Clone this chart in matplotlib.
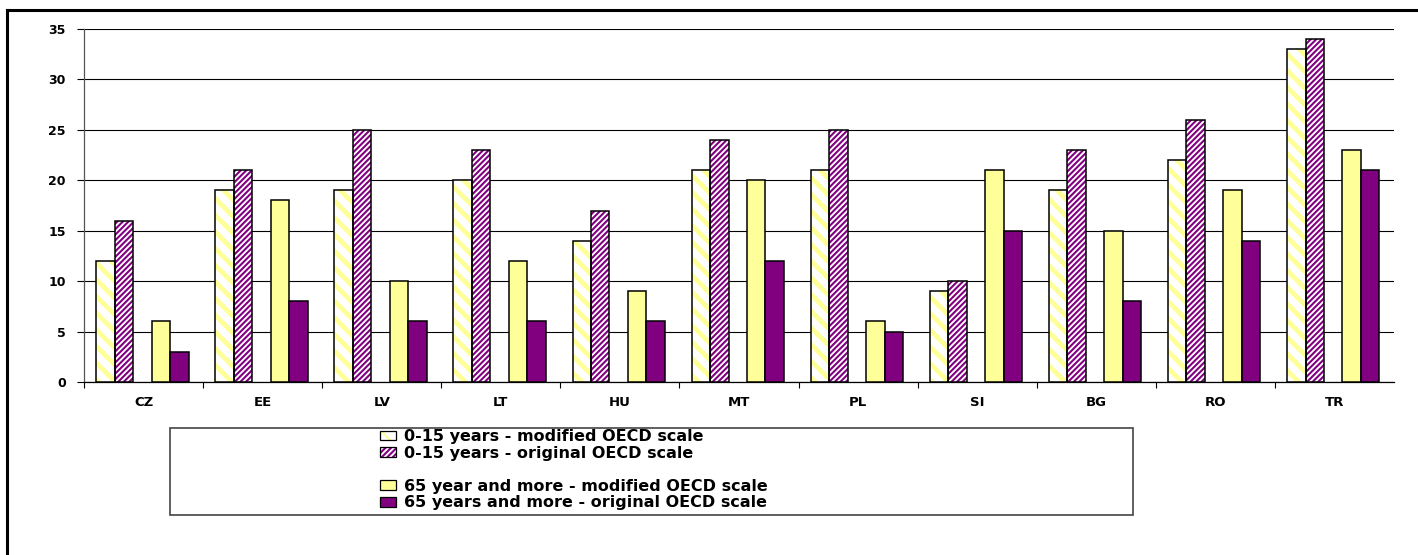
import matplotlib
matplotlib.use('Agg')
import matplotlib.pyplot as plt
from matplotlib.patches import Patch, Rectangle
from matplotlib.lines import Line2D
from matplotlib.legend_handler import HandlerTuple
import numpy as np

plt.rcParams['font.family'] = ['DejaVu Sans']
plt.rcParams['font.weight'] = 'bold'

countries = ["CZ", "EE", "LV", "LT", "HU", "MT", "PL", "SI", "BG", "RO", "TR"]
young_modified = [12, 19, 19, 20, 14, 21, 21, 9, 19, 22, 33]
young_original = [16, 21, 25, 23, 17, 24, 25, 10, 23, 26, 34]
old_modified = [6, 18, 10, 12, 9, 20, 6, 21, 15, 19, 23]
old_original = [3, 8, 6, 6, 6, 12, 5, 15, 8, 14, 21]

labels = ["0-15 years - modified OECD scale",
          "0-15 years - original OECD scale",
          " ",
          "65 year and more - modified OECD scale",
          "65 years and more - original OECD scale"]

yellow = '#FFFF99'
purple = '#800080'

W, H = 1418, 555
fig = plt.figure(figsize=(W / 100, H / 100), dpi=100)
ax = fig.add_axes([84 / W, 1 - 382 / H, (1394 - 84) / W, (382 - 29) / H])

x = np.arange(len(countries))
width = 0.155  # bar width, 5 slots per group (middle one is empty)


def hatched(vals, slot, hatch, hcolor, hlw):
    pos = x + (slot - 2) * width - 0.01
    plt.rcParams['hatch.linewidth'] = hlw
    bars = ax.bar(pos, vals, width, color='white', edgecolor=hcolor, hatch=hatch,
                  linewidth=0, zorder=3)
    for b in bars:
        if hasattr(b, 'set_hatch_linewidth'):
            b.set_hatch_linewidth(hlw)
    ax.bar(pos, vals, width, color='none', edgecolor='black', linewidth=1.1, zorder=4)


def plain(vals, slot, color):
    pos = x + (slot - 2) * width - 0.01
    ax.bar(pos, vals, width, color=color, edgecolor='black', linewidth=1.1, zorder=3)


hatched(young_modified, 0, '\\\\', yellow, 3.5)
hatched(young_original, 1, '//////', purple, 1.5)
plain(old_modified, 3, yellow)
plain(old_original, 4, purple)

ax.set_ylim(0, 35)
ax.set_yticks(range(0, 36, 5))
ax.set_xlim(-0.5, len(countries) - 0.5)
ax.set_xticks(x - 0.5)
ax.set_xticks(x, minor=True)
ax.set_xticklabels([])
ax.set_xticklabels(countries, minor=True)
ax.tick_params(axis='x', which='major', length=4, width=0.8, direction='out')
ax.tick_params(axis='x', which='minor', length=0, pad=10, labelsize=9.5)
ax.tick_params(axis='y', length=5, width=0.8, pad=8, labelsize=9)
ax.yaxis.grid(True, color='black', linewidth=0.8, zorder=0)
ax.set_axisbelow(True)
for s in ['top', 'right']:
    ax.spines[s].set_visible(False)
ax.spines['left'].set_color('#555555')
ax.spines['bottom'].set_color('black')
ax.spines['left'].set_linewidth(0.9)
ax.spines['bottom'].set_linewidth(0.9)

# legend proxies
plt.rcParams['hatch.linewidth'] = 2.0
h0 = (Patch(facecolor='white', edgecolor=yellow, hatch='\\\\', linewidth=0),
      Patch(facecolor='none', edgecolor='black', linewidth=0.9))
plt.rcParams['hatch.linewidth'] = 1.5
h1 = (Patch(facecolor='white', edgecolor=purple, hatch='//////', linewidth=0),
      Patch(facecolor='none', edgecolor='black', linewidth=0.9))
blank = Patch(facecolor='none', edgecolor='none')
h3 = Patch(facecolor=yellow, edgecolor='black', linewidth=0.9)
h4 = Patch(facecolor=purple, edgecolor='black', linewidth=0.9)
fig.legend([h0, h1, blank, h3, h4], labels,
           handler_map={tuple: HandlerTuple(ndivide=1, pad=0)},
           loc='upper left', bbox_to_anchor=(380 / W, 1 - 429 / H),
           frameon=False, fontsize=11.5, borderpad=0, borderaxespad=0,
           labelspacing=0.1, handlelength=1.0, handleheight=0.55,
           handletextpad=0.5)

# legend box and outer chart frame
fig.patches.append(Rectangle((170 / W, 1 - 515 / H), (1133 - 170) / W, (515 - 428) / H,
                             transform=fig.transFigure, facecolor='none',
                             edgecolor='#444444', linewidth=1.2))
fig.lines.append(Line2D([7.5 / W, 7.5 / W], [0, 1 - 9.5 / H], transform=fig.transFigure,
                        color='black', linewidth=2.2))
fig.lines.append(Line2D([7.5 / W, 1], [1 - 9.5 / H, 1 - 9.5 / H], transform=fig.transFigure,
                        color='black', linewidth=2.2))

fig.savefig('out.png', dpi=100)
